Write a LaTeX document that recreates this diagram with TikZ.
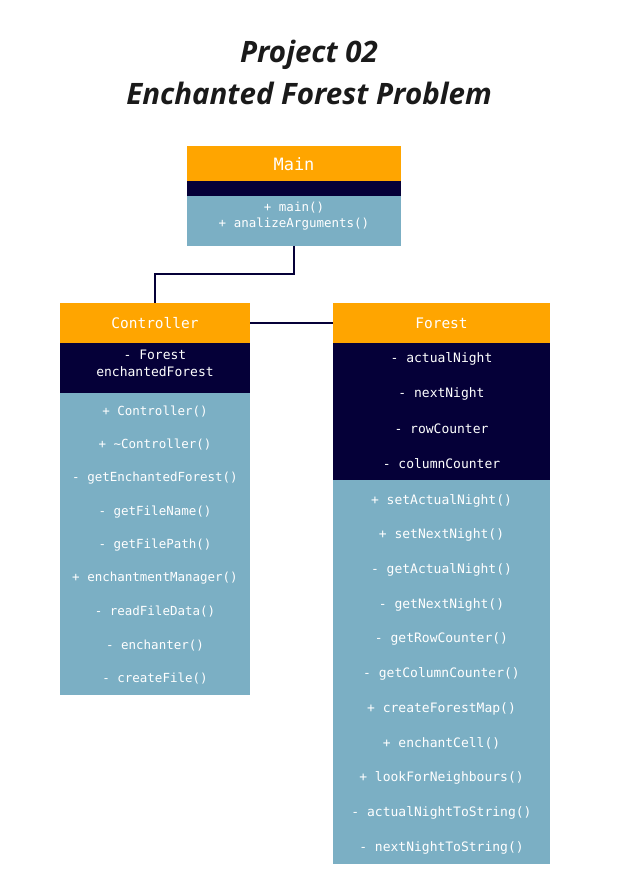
\documentclass[tikz,border=0pt]{standalone}
\usepackage{fontspec}
\setmainfont{Open Sans}
\setmonofont{DejaVu Sans Mono}
\definecolor{hdr}{HTML}{FFA500}
\definecolor{navy}{HTML}{050038}
\definecolor{steel}{HTML}{7BAFC4}
\definecolor{ttl}{HTML}{1A1A1A}
\begin{document}
\begin{tikzpicture}[x=1pt,y=-1pt,
  part/.style={anchor=north west,inner sep=0pt,outer sep=0pt,draw=none},
  headpart/.style={part,fill=hdr,text=white,font=\ttfamily\fontsize{15}{18}\selectfont},
  attrpart/.style={part,fill=navy},
  methpart/.style={part,fill=steel},
  row/.style={text=white,inner sep=0pt,font=\ttfamily\fontsize{12.5}{15}\selectfont},
  conn/.style={draw=navy,line width=2pt}]
\useasboundingbox (0,0) rectangle (617,885);
% title
\node[text=ttl,font=\bfseries\itshape\fontsize{29.5}{42}\selectfont,align=center] (title) at (309,72) {Project 02\\Enchanted Forest Problem};
% Main
\node[headpart,minimum width=214pt,minimum height=35pt] (mainH) at (187,146) {};
\node[text=white,font=\ttfamily\fontsize{17}{18}\selectfont] (mainT) at (294,164) {Main};
\node[attrpart,minimum width=214pt,minimum height=15pt] (mainA) at (187,181) {};
\node[methpart,minimum width=214pt,minimum height=50pt] (mainB) at (187,196) {};
\node[row] (mainM1) at (294,207.5) {+ main()};
\node[row] (mainM2) at (294,224.5) {+ analizeArguments()};
% Controller
\node[headpart,minimum width=190pt,minimum height=40pt] (ctrlH) at (60,303) {};
\node[text=white,font=\ttfamily\fontsize{14.5}{18}\selectfont] (ctrlT) at (155,323) {Controller};
\node[attrpart,minimum width=190pt,minimum height=50pt] (ctrlA) at (60,343) {};
\node[row,font=\ttfamily\fontsize{13}{15}\selectfont] (ctrlA1) at (155,354.5) {- Forest};
\node[row,font=\ttfamily\fontsize{13}{15}\selectfont] (ctrlA2) at (155,371.5) {enchantedForest};
\node[methpart,minimum width=190pt,minimum height=302pt] (ctrlB) at (60,393) {};
\foreach \t [count=\i] in {+ Controller(),+ \textasciitilde Controller(),- getEnchantedForest(),- getFileName(),- getFilePath(),+ enchantmentManager(),- readFileData(),- enchanter(),- createFile()}
  \node[row] (ctrlM\i) at (155,{411.5+(\i-1)*33.4}) {\t};
% Forest
\node[headpart,minimum width=217pt,minimum height=40pt] (forH) at (333,303) {};
\node[text=white,font=\ttfamily\fontsize{14.5}{18}\selectfont] (forT) at (441.5,323) {Forest};
\node[attrpart,minimum width=217pt,minimum height=137pt] (forA) at (333,343) {};
\foreach \t [count=\i] in {- actualNight,- nextNight,- rowCounter,- columnCounter}
  \node[row,font=\ttfamily\fontsize{13}{15}\selectfont] (forA\i) at (441.5,{358.5+(\i-1)*35}) {\t};
\node[methpart,minimum width=217pt,minimum height=384pt] (forB) at (333,480) {};
\foreach \t [count=\i] in {+ setActualNight(),+ setNextNight(),- getActualNight(),- getNextNight(),- getRowCounter(),- getColumnCounter(),+ createForestMap(),+ enchantCell(),+ lookForNeighbours(),- actualNightToString(),- nextNightToString()}
  \node[row,font=\ttfamily\fontsize{13}{15}\selectfont] (forM\i) at (441.5,{500.5+(\i-1)*34.7}) {\t};
% connectors
\draw[conn] (mainB.south) -- ++(0,28) -| (ctrlH.north);
\draw[conn] (ctrlH.east) -- (forH.west);
\end{tikzpicture}
\end{document}
